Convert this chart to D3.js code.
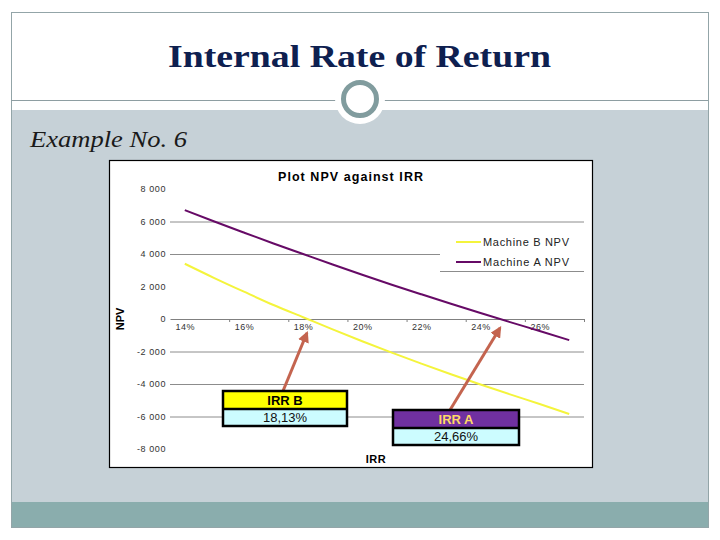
<!DOCTYPE html>
<html>
<head>
<meta charset="utf-8">
<script src="https://cdn.jsdelivr.net/npm/d3@7"></script>
<style>
  body { margin: 0; background: #fff; }
</style>
</head>
<body>
<div id="slide"></div>
<script>
// chart values
var rates = [14, 15, 16, 17, 18, 19, 20, 21, 22, 23, 24, 25, 26, 27];
var npvB = [3400, 2520, 1680, 860, 110, -640, -1370, -2070, -2750, -3400, -4030, -4640, -5230, -5850];
var npvA = [6700, 6000, 5320, 4650, 4000, 3350, 2720, 2110, 1520, 940, 370, -190, -740, -1300];
var yTicks = [8000, 6000, 4000, 2000, 0, -2000, -4000, -6000, -8000];
var gridTicks = [6000, 4000, -2000, -4000, -6000];
var xLabels = [14, 16, 18, 20, 22, 24, 26];
var xBounds = [15.5, 17.5, 19.5, 21.5, 23.5, 25.5, 27.5];
var seriesNames = ['Machine B NPV', 'Machine A NPV'];
var irrRates = [18.13, 24.66];
var irrLabels = ['IRR B', 'IRR A'];
var irrTexts = ['18,13%', '24,66%'];

var W = 720, H = 540;
var sans = '"Liberation Sans", Arial, sans-serif';
var serif = '"Liberation Serif", "Times New Roman", serif';
var colorB = '#f4f43c';
var colorA = '#660a66';
var arrowColor = '#c4644f';

var svg = d3.select('#slide')
    .append('svg')
    .attr('width', W)
    .attr('height', H);

// slide background
svg.append('rect').attr('x', 11).attr('y', 110).attr('width', 697).attr('height', 392).attr('fill', '#c6d1d7');
svg.append('rect').attr('x', 11).attr('y', 502).attr('width', 697).attr('height', 25).attr('fill', '#8aadad');
svg.append('rect')
    .attr('x', 11.5).attr('y', 12.5).attr('width', 697).attr('height', 515)
    .attr('fill', 'none').attr('stroke', '#93a5a8').attr('stroke-width', 1);
svg.append('line')
    .attr('x1', 11).attr('x2', 708).attr('y1', 100.5).attr('y2', 100.5)
    .attr('stroke', '#8e9ea2').attr('stroke-width', 1);
svg.append('circle').attr('cx', 360).attr('cy', 99).attr('r', 25).attr('fill', '#fff');
svg.append('circle').attr('cx', 360).attr('cy', 99).attr('r', 16.5)
    .attr('fill', '#fff').attr('stroke', '#819c9e').attr('stroke-width', 5);

svg.append('text')
    .attr('x', 168).attr('y', 67)
    .attr('textLength', 383).attr('lengthAdjust', 'spacingAndGlyphs')
    .style('font-family', serif).style('font-weight', 'bold').style('font-size', '32px')
    .style('fill', '#0e2050')
    .text('Internal Rate of Return');

svg.append('text')
    .attr('x', 30).attr('y', 147)
    .attr('textLength', 157).attr('lengthAdjust', 'spacingAndGlyphs')
    .style('font-family', serif).style('font-style', 'italic').style('font-size', '23px')
    .style('fill', '#1a1a1a')
    .text('Example No. 6');

// chart box
svg.append('rect')
    .attr('x', 109.5).attr('y', 160.5).attr('width', 483).attr('height', 307)
    .attr('fill', '#fff').attr('stroke', '#000').attr('stroke-width', 1.2);

svg.append('text')
    .attr('x', 278).attr('y', 181)
    .attr('textLength', 145).attr('lengthAdjust', 'spacing')
    .style('font-family', sans).style('font-weight', 'bold').style('font-size', '12.5px')
    .text('Plot NPV against IRR');

var x = d3.scaleLinear().domain([13.5, 27.5]).range([170, 584]);
var y = d3.scaleLinear().domain([-8000, 8000]).range([449, 189]);

var locale = d3.formatLocale({ decimal: ',', thousands: ' ', grouping: [3], currency: ['', ''], minus: '-' });
var fmt = locale.format(',');

var g = svg.append('g');

// gridlines
var grid = g.append('g')
    .attr('transform', 'translate(170,0)')
    .call(d3.axisLeft(y).tickValues(gridTicks).tickSize(-414).tickFormat(''));
grid.select('.domain').remove();
grid.selectAll('line').attr('stroke', '#8c8c8c').attr('stroke-width', 1);

// y axis labels
var yAxis = g.append('g')
    .attr('transform', 'translate(166,0)')
    .call(d3.axisLeft(y).tickValues(yTicks).tickSize(0).tickPadding(0).tickFormat(fmt));
yAxis.select('.domain').remove();
yAxis.selectAll('text')
    .style('font-family', sans).style('font-size', '9px').style('letter-spacing', '0.6px')
    .style('fill', '#333');

// x axis at zero
var xTickMarks = g.append('g')
    .attr('transform', 'translate(0,' + y(0) + ')')
    .call(d3.axisBottom(x).tickValues(xBounds).tickSize(3).tickFormat('').tickSizeOuter(0));
xTickMarks.select('.domain').attr('stroke', '#808080');
xTickMarks.selectAll('line').attr('stroke', '#808080');

var xAxis = g.append('g')
    .attr('transform', 'translate(0,' + y(0) + ')')
    .call(d3.axisBottom(x).tickValues(xLabels).tickSize(0).tickPadding(5).tickFormat(d => d + '%'));
xAxis.select('.domain').remove();
xAxis.selectAll('text')
    .style('font-family', sans).style('font-size', '9px').style('letter-spacing', '0.5px')
    .style('fill', '#333');

// axis titles
svg.append('text')
    .attr('transform', 'translate(124,' + y(0) + ') rotate(-90)')
    .attr('text-anchor', 'middle')
    .style('font-family', sans).style('font-weight', 'bold').style('font-size', '11px')
    .text('NPV');
svg.append('text')
    .attr('x', 376).attr('y', 463)
    .attr('text-anchor', 'middle')
    .style('font-family', sans).style('font-weight', 'bold').style('font-size', '11px')
    .style('letter-spacing', '0.5px')
    .text('IRR');

// legend
var legend = g.append('g');
legend.append('rect')
    .attr('x', 440).attr('y', 228).attr('width', 144).attr('height', 43)
    .attr('fill', '#fff');
legend.append('line')
    .attr('x1', 440).attr('x2', 584).attr('y1', 271.5).attr('y2', 271.5)
    .attr('stroke', '#8c8c8c');
var legendItems = legend.selectAll('.item')
    .data(seriesNames)
    .enter()
    .append('g')
    .attr('class', 'item')
    .attr('transform', (d, i) => 'translate(456,' + (242 + i * 20) + ')');
legendItems.append('line')
    .attr('x1', 0).attr('x2', 25)
    .attr('stroke', (d, i) => i === 0 ? colorB : colorA)
    .attr('stroke-width', 2);
legendItems.append('text')
    .attr('x', 27).attr('dy', '0.35em')
    .attr('textLength', 86).attr('lengthAdjust', 'spacing')
    .style('font-family', sans).style('font-size', '11px').style('fill', '#222')
    .text(d => d);

// series lines
var npvLine = d3.line().x((d, i) => x(rates[i])).y(d => y(d)).curve(d3.curveMonotoneX);
g.append('path')
    .datum(npvB)
    .attr('fill', 'none')
    .attr('stroke', colorB)
    .attr('stroke-width', 2)
    .attr('d', npvLine);
g.append('path')
    .datum(npvA)
    .attr('fill', 'none')
    .attr('stroke', colorA)
    .attr('stroke-width', 2)
    .attr('d', npvLine);

// IRR callouts
svg.append('defs').append('marker')
    .attr('id', 'arrowhead')
    .attr('viewBox', '0 0 10 10')
    .attr('refX', 8).attr('refY', 5)
    .attr('markerWidth', 3.8).attr('markerHeight', 3.8)
    .attr('orient', 'auto')
    .append('path')
    .attr('d', 'M0,0 L10,5 L0,10 Z')
    .attr('fill', arrowColor);

var boxes = [
    { x: 223, y: 391, w: 124, top: '#ffff00', topText: '#000', tipDy: 14 },
    { x: 393, y: 410, w: 126, top: '#7030a0', topText: '#ffd966', tipDy: 9 }
];

boxes.forEach(function (b, i) {
    var cx = b.x + b.w / 2;
    g.append('line')
        .attr('x1', i === 0 ? cx - 2 : cx - 6).attr('y1', b.y)
        .attr('x2', x(irrRates[i])).attr('y2', y(0) + b.tipDy)
        .attr('stroke', arrowColor).attr('stroke-width', 3)
        .attr('marker-end', 'url(#arrowhead)');
    var box = g.append('g');
    box.append('rect')
        .attr('x', b.x).attr('y', b.y).attr('width', b.w).attr('height', 18)
        .attr('fill', b.top);
    box.append('rect')
        .attr('x', b.x).attr('y', b.y + 18).attr('width', b.w).attr('height', 17)
        .attr('fill', '#ccfcff');
    box.append('rect')
        .attr('x', b.x).attr('y', b.y).attr('width', b.w).attr('height', 35)
        .attr('fill', 'none').attr('stroke', '#000').attr('stroke-width', 2.5);
    box.append('line')
        .attr('x1', b.x).attr('x2', b.x + b.w).attr('y1', b.y + 18).attr('y2', b.y + 18)
        .attr('stroke', '#000').attr('stroke-width', 2.5);
    box.append('text')
        .attr('x', cx).attr('y', b.y + 14)
        .attr('text-anchor', 'middle')
        .style('font-family', sans).style('font-weight', 'bold').style('font-size', '13px')
        .style('fill', b.topText)
        .text(irrLabels[i]);
    box.append('text')
        .attr('x', cx).attr('y', b.y + 31)
        .attr('text-anchor', 'middle')
        .style('font-family', sans).style('font-size', '13px')
        .style('fill', '#111')
        .text(irrTexts[i]);
});
</script>
</body>
</html>
